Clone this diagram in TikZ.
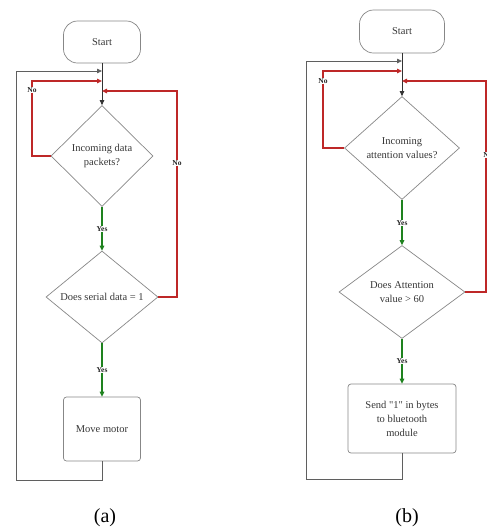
\documentclass[tikz,border=0pt]{standalone}
\usepackage{fontspec}
\setmainfont{Liberation Serif}[Ligatures=TeXOff]
\usetikzlibrary{shapes.geometric,arrows.meta}
\definecolor{nored}{RGB}{190,40,40}
\definecolor{yesgreen}{RGB}{30,130,30}
\definecolor{shapegray}{RGB}{135,135,135}
\definecolor{loopgray}{RGB}{95,95,95}
\definecolor{txtgray}{RGB}{55,55,55}
\begin{document}
\begin{tikzpicture}[x=1pt,y=-1pt,
  tipa/.style={-{Triangle[length=5pt,width=4.5pt]}},
  startbox/.style={draw=shapegray, line width=0.7pt, rounded corners=14pt, inner sep=0pt,
    text=txtgray, font=\fontsize{10.5}{14}\selectfont},
  decision/.style={diamond, draw=shapegray, line width=0.7pt, inner sep=0pt, align=center,
    text=txtgray, font=\fontsize{10.5}{14}\selectfont},
  procbox/.style={draw=shapegray, line width=0.7pt, rounded corners=3pt, inner sep=0pt, align=center,
    text=txtgray, font=\fontsize{10.5}{14}\selectfont},
  lab/.style={fill=white, inner sep=1pt, text=black!85, font=\bfseries\fontsize{7.5}{8}\selectfont},
  noline/.style={draw=nored, line width=1.4pt, tipa},
  yesline/.style={draw=yesgreen, line width=1.4pt, tipa},
  loopline/.style={draw=loopgray, line width=0.8pt, tipa},
  mainline/.style={draw=black!80, line width=0.8pt, tipa},
  caption/.style={font=\fontsize{20}{24}\selectfont}]
\useasboundingbox (0,0) rectangle (487,531);

% ---------------- (a) ----------------
\node[startbox, minimum width=77pt, minimum height=42pt] (aS) at (102,42) {Start};
\node[decision, minimum width=102pt, minimum height=101pt] (aD1) at (102,156) {Incoming data\\packets?};
\node[decision, minimum width=112pt, minimum height=92pt] (aD2) at (102,297) {Does serial data = 1};
\node[procbox, minimum width=77pt, minimum height=64pt] (aB) at (102,429) {Move motor};
\coordinate (aJ1) at (102,71);
\coordinate (aJ2) at (102,81);
\coordinate (aJ3) at (102,91);

\draw[mainline] (aS.south) -- (aD1.north);
\draw[loopline] (aB.south) -- (102,480) -- (16,480) -- (16,71) -- (aJ1);
\draw[noline] (aD1.west) -- (32,156) -- (32,81) -- (aJ2);
\draw[noline] (aD2.east) -- (177,297) -- (177,91) -- (aJ3);
\draw[yesline] (aD1.south) -- (aD2.north);
\draw[yesline] (aD2.south) -- (aB.north);
\node[lab] (aNo1) at (32,90) {No};
\node[lab] (aNo2) at (177,163) {No};
\node[lab] (aYes1) at (102,229) {Yes};
\node[lab] (aYes2) at (102,370) {Yes};
\node[caption] (capa) at (105,518) {(a)};

% ---------------- (b) ----------------
\node[startbox, minimum width=85pt, minimum height=43pt] (bS) at (402,31.5) {Start};
\node[decision, minimum width=115pt, minimum height=103pt] (bD1) at (402,148) {Incoming\\attention values?};
\node[decision, minimum width=126pt, minimum height=93pt] (bD2) at (402,292) {Does Attention\\value > 60};
\node[procbox, minimum width=108pt, minimum height=69pt] (bB) at (402,418.5) {Send "1" in bytes\\to bluetooth\\module};
\coordinate (bJ1) at (402,61);
\coordinate (bJ2) at (402,71);
\coordinate (bJ3) at (402,81);

\draw[mainline] (bS.south) -- (bD1.north);
\draw[loopline] (bB.south) -- (402,479) -- (306,479) -- (306,61) -- (bJ1);
\draw[noline] (bD1.west) -- (323,148) -- (323,71) -- (bJ2);
\draw[noline] (bD2.east) -- (486,292) -- (486,81) -- (bJ3);
\draw[yesline] (bD1.south) -- (bD2.north);
\draw[yesline] (bD2.south) -- (bB.north);
\node[lab] (bNo1) at (323,81) {No};
\node[lab] (bNo2) at (488,155) {No};
\node[lab] (bYes1) at (402,223) {Yes};
\node[lab] (bYes2) at (402,361) {Yes};
\node[caption] (capb) at (407,518) {(b)};
\end{tikzpicture}
\end{document}
